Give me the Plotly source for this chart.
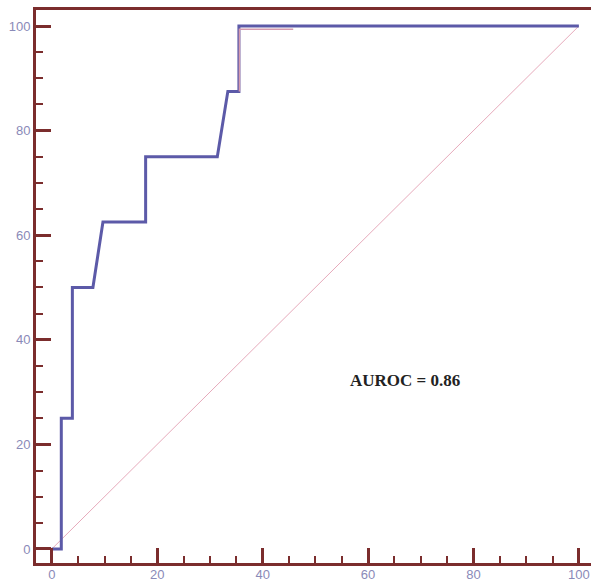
import plotly.graph_objects as go

# ROC curve (1 - specificity %, sensitivity %)
fpr = [0, 1.8, 1.8, 3.9, 3.9, 7.8, 9.7, 17.8, 17.8, 31.4, 33.4, 35.5, 35.5, 100]
tpr = [0, 0, 25, 25, 50, 50, 62.5, 62.5, 75, 75, 87.5, 87.5, 100, 100]

# faint secondary line near the top
sec_x = [35.6, 35.6, 45.8]
sec_y = [87.5, 99.4, 99.4]

# reference diagonal
diag_x = [0, 100]
diag_y = [0, 100]

label_text = "<b>AUROC = 0.86</b>"
label_pos = (67.1, 32.3)

axis_col = "#7b2d2d"
tick_font = dict(family="Liberation Sans, Arial", size=13, color="#8a8ab8")

fig = go.Figure()
fig.add_trace(go.Scatter(x=diag_x, y=diag_y, mode="lines",
                         line=dict(color="#e6aabb", width=1), hoverinfo="skip"))
fig.add_trace(go.Scatter(x=fpr, y=tpr, mode="lines",
                         line=dict(color="#5c5aa8", width=3)))
fig.add_trace(go.Scatter(x=sec_x, y=sec_y, mode="lines",
                         line=dict(color="#d49aae", width=1.5)))

fig.add_annotation(x=label_pos[0], y=label_pos[1], text=label_text, showarrow=False,
                   font=dict(family="Liberation Serif, Times New Roman", size=17, color="#222222"),
                   xref="x", yref="y")

fig.update_layout(
    width=591, height=583,
    margin=dict(l=36, r=0, t=10, b=20, autoexpand=False),
    paper_bgcolor="white", plot_bgcolor="white",
    showlegend=False,
    xaxis=dict(range=[-3.0, 102.3], tickvals=[0, 20, 40, 60, 80, 100],
               automargin=False,
               showgrid=False, zeroline=False,
               showline=True, linecolor=axis_col, linewidth=3, mirror=True,
               ticks="inside", ticklen=15, tickwidth=3, tickcolor=axis_col,
               minor=dict(ticks="inside", ticklen=7, tickwidth=2, tickcolor=axis_col, dtick=5, showgrid=False),
               tickfont=tick_font, ticklabelstandoff=-3),
    yaxis=dict(range=[-2.68, 103.06], tickvals=[0, 20, 40, 60, 80, 100],
               automargin=False,
               showgrid=False, zeroline=False,
               showline=True, linecolor=axis_col, linewidth=3,
               ticks="inside", ticklen=15, tickwidth=3, tickcolor=axis_col,
               minor=dict(ticks="inside", ticklen=7, tickwidth=2, tickcolor=axis_col, dtick=5, showgrid=False),
               tickfont=tick_font),
)

fig.write_html("out.html", config={"displayModeBar": False},
               post_script="document.body.style.margin='0';document.body.style.overflow='hidden';")
